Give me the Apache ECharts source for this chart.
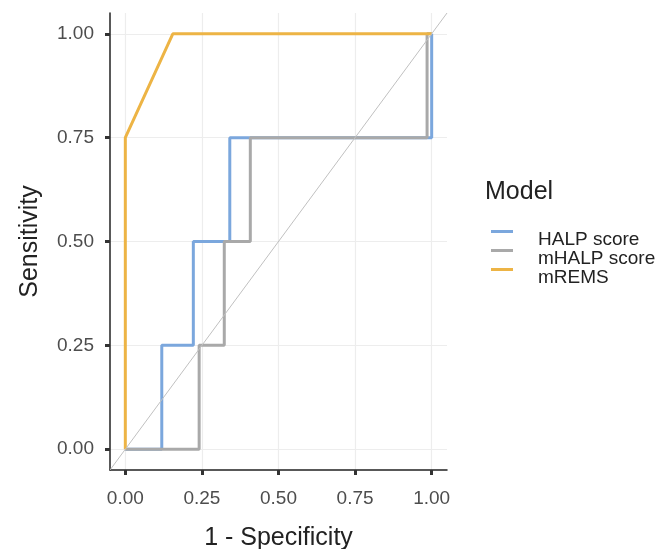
<!DOCTYPE html>
<html>
<head>
<meta charset="utf-8">
<title>ROC curves</title>
<script src="https://cdn.jsdelivr.net/npm/echarts@6/dist/echarts.min.js"></script>
<style>
  html, body { margin: 0; padding: 0; background: #fff; }
  #chart { width: 670px; height: 549px; }
</style>
</head>
<body>
<div id="chart"></div>
<script>
var modelNames = ['HALP score', 'mHALP score', 'mREMS'];
var modelColors = ['#7BA7DD', '#A9A9A9', '#EDB445'];

// 1 - specificity / sensitivity pairs
var halpFpr = [0, 0.119, 0.119, 0.222, 0.222, 0.341, 0.341, 1.0, 1.0];
var halpTpr = [0, 0, 0.25, 0.25, 0.5, 0.5, 0.75, 0.75, 1.0];
var mhalpFpr = [0, 0.241, 0.241, 0.323, 0.323, 0.408, 0.408, 0.985, 0.985, 1.0];
var mhalpTpr = [0, 0, 0.25, 0.25, 0.5, 0.5, 0.75, 0.75, 1.0, 1.0];
var mremsFpr = [0, 0, 0.155, 1.0];
var mremsTpr = [0, 0.75, 1.0, 1.0];

var tickValues = [0, 0.25, 0.5, 0.75, 1.0];
var axisMin = -0.05;
var axisMax = 1.05;

function pairs(xs, ys) {
	return xs.map(function (x, i) { return [x, ys[i]]; });
}

var curves = [pairs(halpFpr, halpTpr), pairs(mhalpFpr, mhalpTpr), pairs(mremsFpr, mremsTpr)];
var font = "'Liberation Sans', Arial, Helvetica, sans-serif";

function axisBase(name) {
	return {
		type: 'value',
		min: axisMin,
		max: axisMax,
		name: name,
		nameLocation: 'middle',
		nameTextStyle: { fontFamily: font, fontSize: 25, color: '#222' },
		axisLine: { show: true, onZero: false, lineStyle: { color: '#222', width: 1.5 } },
		axisTick: {
			show: true,
			customValues: tickValues,
			length: 5,
			lineStyle: { color: '#333', width: 3 }
		},
		axisLabel: {
			customValues: tickValues,
			margin: 16,
			fontFamily: font,
			fontSize: 19,
			color: '#4D4D4D',
			formatter: function (v) { return v.toFixed(2); }
		},
		splitLine: { show: true, lineStyle: { color: '#EDEDED', width: 1.2 } }
	};
}

var xAxis = axisBase('1 - Specificity');
xAxis.nameGap = 56;
xAxis.axisLabel.margin = 19;
var yAxis = axisBase('Sensitivity');
yAxis.nameGap = 67;

var series = curves.map(function (d, i) {
	return {
		name: modelNames[i],
		type: 'line',
		data: d,
		symbol: 'none',
		silent: true,
		animation: false,
		lineStyle: { color: modelColors[i], width: 3 },
		itemStyle: { color: modelColors[i] },
		z: 2 + i
	};
});

// reference diagonal across the whole panel
series.push({
	type: 'line',
	data: [[axisMin, axisMin], [axisMax, axisMax]],
	symbol: 'none',
	silent: true,
	animation: false,
	lineStyle: { color: '#C0C0C0', width: 1 },
	z: 10
});

// legend key: 3px bar at the top of a 22x19 box, so the label sits a bit lower
var legendIcon = 'path://M0,0H22V3H0Z M0,19L0.001,19L0,18.999Z';

echarts.init(document.getElementById('chart')).setOption({
	backgroundColor: '#fff',
	animation: false,
	title: {
		text: 'Model',
		left: 485,
		top: 180,
		padding: 0,
		textStyle: { fontFamily: font, fontSize: 25, fontWeight: 'normal', color: '#222' }
	},
	legend: {
		data: modelNames,
		orient: 'vertical',
		left: 491,
		top: 230,
		padding: 0,
		itemWidth: 22,
		itemHeight: 19,
		itemGap: 0,
		icon: legendIcon,
		selectedMode: false,
		textStyle: {
			fontFamily: font,
			fontSize: 19,
			lineHeight: 19,
			color: '#222',
			padding: [0, 0, 0, 20]
		}
	},
	grid: { left: 110, right: 223, top: 13, bottom: 79, outerBoundsMode: 'none' },
	xAxis: xAxis,
	yAxis: yAxis,
	series: series
});
</script>
</body>
</html>
